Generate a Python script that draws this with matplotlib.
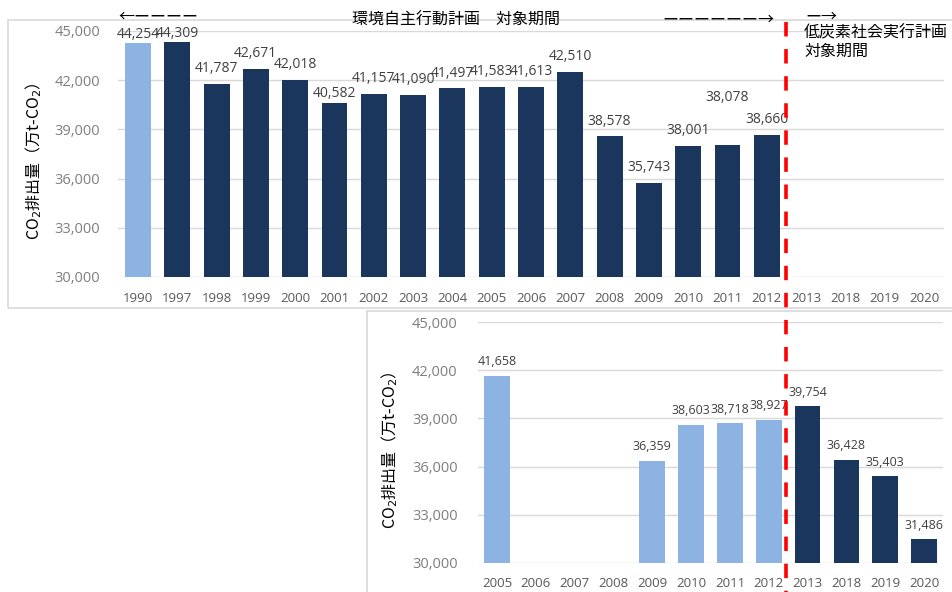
import numpy as np
import matplotlib.pyplot as plt
from matplotlib.patches import Rectangle
from matplotlib.lines import Line2D

plt.rcParams['font.family'] = ['Open Sans', 'Noto Sans CJK JP', 'DejaVu Sans']
CJK = ['Noto Sans CJK JP', 'DejaVu Sans']

W, H = 953, 592
DARK = "#1b365d"
LIGHT = "#8db3e2"
GRID = "#d9d9d9"
RED = "#ff0000"

# 上段: 環境自主行動計画の実績
top_years = ["1990", "1997", "1998", "1999", "2000", "2001", "2002", "2003", "2004",
             "2005", "2006", "2007", "2008", "2009", "2010", "2011", "2012",
             "2013", "2018", "2019", "2020"]
top_values = [44254, 44309, 41787, 42671, 42018, 40582, 41157, 41090, 41497,
              41583, 41613, 42510, 38578, 35743, 38001, 38078, 38660,
              None, None, None, None]
top_light = ["1990"]

# 下段: 低炭素社会実行計画の実績・見通し
bottom_years = ["2005", "2006", "2007", "2008", "2009", "2010", "2011", "2012",
                "2013", "2018", "2019", "2020"]
bottom_values = [41658, None, None, None, 36359, 38603, 38718, 38927,
                 39754, 36428, 35403, 31486]
bottom_light = ["2005", "2006", "2007", "2008", "2009", "2010", "2011", "2012"]

y_ticks = [30000, 33000, 36000, 39000, 42000, 45000]
ylabel = "CO$_2$排出量（万t-CO$_2$）"


def px(x, y):
    return x / W, 1 - y / H


def draw_panel(ax, years, values, light, label_size, label_off, nudge,
               ytick_pad, xtick_pad, ylabel_x):
    x = np.arange(len(years))
    for i, (yr, v) in enumerate(zip(years, values)):
        if v is None:
            continue
        ax.bar(i, v, width=0.66, color=LIGHT if yr in light else DARK, zorder=2)
        ax.annotate(f"{v:,}", (i, v), xytext=(0, nudge.get(yr, label_off)),
                    textcoords='offset points', ha='center', va='center',
                    fontsize=label_size, color="#404040", zorder=4)
    ax.set_xlim(-0.5, len(years) - 0.5)
    ax.set_ylim(30000, 45000)
    ax.set_yticks(y_ticks)
    ax.set_yticklabels([f"{t:,}" for t in y_ticks])
    ax.set_xticks(x)
    ax.set_xticklabels(years)
    ax.grid(axis='y', color=GRID, lw=1, zorder=0)
    for s in ax.spines.values():
        s.set_visible(False)
    ax.tick_params(axis='y', length=0, pad=ytick_pad, labelsize=10.5, labelcolor="#7f7f7f")
    ax.tick_params(axis='x', length=0, pad=xtick_pad, labelsize=9.5, labelcolor="#595959")
    ax.set_facecolor('none')
    ax.text(ylabel_x, 0.47, ylabel, transform=ax.transAxes, rotation=90,
            ha='center', va='center', fontsize=11.5, family=CJK, color="#000000")


fig = plt.figure(figsize=(W / 100, H / 100), dpi=100)
fig.patch.set_facecolor('white')

# 枠線
fig.add_artist(Rectangle(px(8, 308), 1.2, 288 / H, transform=fig.transFigure,
                         fill=False, ec=GRID, lw=1.2, zorder=0))
fig.add_artist(Rectangle(px(367, 640), 1.2, 329 / H, transform=fig.transFigure,
                         fill=False, ec=GRID, lw=1.2, zorder=0))

ax_top = fig.add_axes([118.3 / W, 1 - 277 / H, 825.4 / W, 246 / H])
ax_bot = fig.add_axes([477.6 / W, 1 - 563 / H, 465.8 / W, 241 / H])

draw_panel(ax_top, top_years, top_values, top_light, 10, 11,
           {"1990": 6.5, "1997": 6.5, "2001": 7.5, "2011": 34},
           ytick_pad=13, xtick_pad=11, ylabel_x=-0.103)
draw_panel(ax_bot, bottom_years, bottom_values, bottom_light, 9, 10, {},
           ytick_pad=14.5, xtick_pad=10, ylabel_x=-0.188)

# 計画期間の矢印と見出し
txt = dict(family=CJK, fontsize=11.5, color="#000000", va='center')
fig.text(*px(118, 17), "←ーーーー", ha='left', **txt)
fig.text(*px(456, 20), "環境自主行動計画　対象期間", ha='center', **txt)
fig.text(*px(662, 20), "ーーーーーー→", ha='left', **txt)
fig.text(*px(805, 17), "ー→", ha='left', **txt)
fig.text(*px(804, 33), "低炭素社会実行計画", ha='left', **txt)
fig.text(*px(804, 51), "対象期間", ha='left', **txt)

# 2012/2013 の区切り線
xr = fig.transFigure.inverted().transform(ax_top.transData.transform((16.5, 30000)))[0]
fig.add_artist(Line2D([xr, xr], [1 - 22 / H, 0], color=RED, lw=2.6,
                      linestyle=(0, (4, 3.5)), transform=fig.transFigure, zorder=5))

fig.savefig("out.png", dpi=100)
